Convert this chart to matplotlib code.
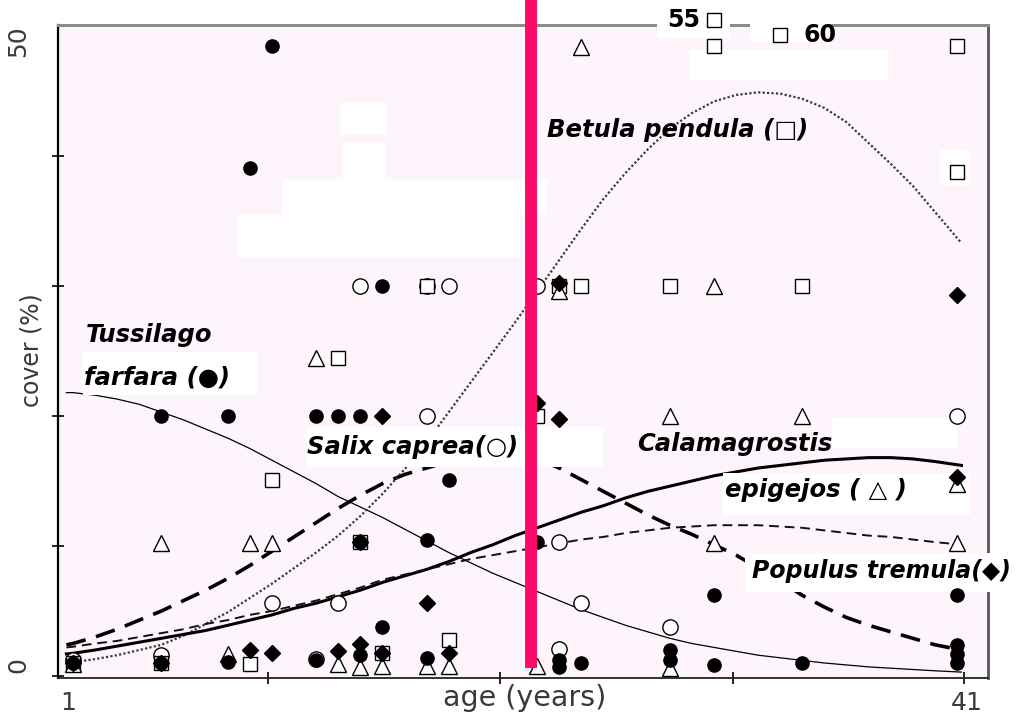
import matplotlib
matplotlib.use("Agg")
import matplotlib.pyplot as plt
from matplotlib.patches import Rectangle
from matplotlib.ticker import FixedLocator

W, H = 1025, 715

# ---------------- data ----------------
curve_age = [0.7, 1, 2, 3, 4, 5, 6, 7, 8, 9, 10, 11, 12, 13, 14, 15, 16, 17, 18, 19, 20,
             21, 22, 23, 24, 25, 26, 27, 28, 29, 30, 31, 32, 33, 34, 35, 36, 37, 38, 39, 40, 41.2]
tussilago_fit = [21.8, 21.8, 21.6, 21.3, 20.9, 20.3, 19.7, 19.0, 18.3, 17.5, 16.6, 15.7, 14.8, 13.8,
                 13.0, 12.2, 11.3, 10.4, 9.5, 8.7, 7.9, 7.2, 6.5, 5.8, 5.1, 4.5, 3.9, 3.4, 2.9, 2.5,
                 2.2, 1.9, 1.6, 1.4, 1.2, 1.0, 0.85, 0.7, 0.6, 0.5, 0.4, 0.3]
salix_fit = [2.4, 2.5, 3.0, 3.6, 4.3, 5.0, 5.8, 6.6, 7.5, 8.5, 9.6, 10.7, 11.8, 12.9, 13.9, 14.8,
             15.5, 16.0, 16.5, 16.8, 17.0, 17.0, 16.7, 16.0, 15.1, 14.2, 13.3, 12.4, 11.6, 10.9,
             10.1, 9.3, 8.3, 7.3, 6.2, 5.3, 4.5, 3.9, 3.4, 2.9, 2.4, 2.0]
betula_fit = [1.0, 1.05, 1.3, 1.6, 2.0, 2.4, 3.1, 4.0, 4.9, 6.0, 7.1, 8.3, 9.5, 10.8, 12.3, 14.0,
              15.9, 18.0, 20.3, 22.6, 24.9, 27.2, 29.6, 32.0, 34.4, 36.7, 38.7, 40.5, 42.1, 43.3,
              44.2, 44.7, 44.9, 44.8, 44.4, 43.7, 42.6, 41.0, 39.4, 37.7, 35.7, 33.3]
calamagrostis_fit = [1.7, 1.75, 2.0, 2.3, 2.6, 2.9, 3.2, 3.5, 3.9, 4.3, 4.7, 5.2, 5.6, 6.1, 6.6,
                     7.2, 7.7, 8.2, 8.8, 9.5, 10.1, 10.8, 11.4, 12.0, 12.6, 13.1, 13.7, 14.2, 14.6,
                     15.0, 15.4, 15.7, 16.0, 16.2, 16.4, 16.6, 16.7, 16.8, 16.8, 16.7, 16.5, 16.2]
populus_fit = [2.2, 2.25, 2.5, 2.7, 3.0, 3.3, 3.6, 4.0, 4.3, 4.7, 5.0, 5.4, 5.8, 6.3, 6.8, 7.4,
               7.8, 8.2, 8.6, 9.0, 9.3, 9.6, 9.9, 10.2, 10.5, 10.7, 11.0, 11.2, 11.4, 11.5, 11.6,
               11.6, 11.6, 11.5, 11.4, 11.2, 11.0, 10.8, 10.7, 10.5, 10.3, 10.1]

tussilago_age = [1, 5, 5, 8, 8, 9, 10, 12, 12, 13, 14, 14, 14, 15, 15, 17, 17, 18, 22, 23, 23, 24, 28, 28, 30, 30, 34, 41, 41, 41, 41]
tussilago_cov = [1.0, 20, 1.0, 20, 1.1, 39.1, 48.5, 20, 1.2, 20, 20, 10.3, 1.6, 30, 3.8, 10.5, 1.4, 15.1, 10.3, 1.2, 0.7, 1.0, 2.0, 1.2, 6.2, 0.85, 1.0, 6.2, 2.4, 1.7, 1.0]

salix_age = [1, 5, 10, 12, 13, 14, 17, 17, 18, 22, 23, 23, 24, 28, 41]
salix_cov = [1.2, 1.6, 5.6, 1.3, 5.6, 30, 20, 30, 30, 30, 10.3, 2.1, 5.6, 3.8, 20]

betula_age = [1, 5, 9, 10, 13, 14, 15, 17, 18, 22, 23, 24, 28, 30, 34, 41, 41]
betula_cov = [1.0, 1.0, 0.9, 15.1, 24.5, 10.3, 1.8, 30, 2.8, 20, 30, 30, 30, 48.5, 30, 48.5, 38.8]
betula_off_age = [30, 33]          # values beyond the axis, drawn at the top edge
betula_off_cov = [55, 60]

calamagrostis_age = [1, 5, 8, 9, 10, 12, 13, 14, 15, 17, 18, 22, 23, 24, 28, 28, 30, 30, 34, 41, 41]
calamagrostis_cov = [0.9, 10.2, 1.7, 10.2, 10.2, 24.5, 0.9, 0.7, 0.8, 0.8, 0.8, 0.8, 29.6, 48.4, 20, 0.6, 30, 10.2, 20, 14.8, 10.2]

populus_age = [1, 5, 9, 10, 13, 14, 14, 15, 15, 17, 18, 22, 23, 23, 41, 41]
populus_cov = [1.0, 1.0, 2.0, 1.8, 1.9, 2.5, 10.3, 20, 1.8, 5.6, 1.8, 21.0, 19.8, 30.2, 29.3, 15.3]

divider_age = 21.7
x_tick_marks = [9.82, 20.32, 30.86, 41.32]
y_tick_marks = [0, 10, 20, 30, 40]

# ---------------- figure ----------------
fig = plt.figure(figsize=(W / 100, H / 100), dpi=100)
fig.patch.set_facecolor("white")
ax = fig.add_axes([58 / W, 1 - 678 / H, 930 / W, 653 / H])
ax.set_facecolor("#fef5fc")
ax.set_xlim(0.32, 42.40)
ax.set_ylim(-0.154, 50.08)


def px_rect(x0, y0, x1, y1, z=1.5):
    r = Rectangle((x0 / W, 1 - y1 / H), (x1 - x0) / W, (y1 - y0) / H,
                  transform=fig.transFigure, facecolor="white", edgecolor="none",
                  zorder=z, clip_on=False)
    ax.add_patch(r)


# white erased patches
for rect in [(340, 103, 387, 135), (343, 143, 385, 180), (283, 180, 547, 215),
             (237, 215, 520, 257), (690, 50, 888, 80), (940, 150, 970, 185)]:
    px_rect(*rect, z=0.5)

# fitted curves
ax.plot(curve_age, tussilago_fit, color="black", lw=0.9, zorder=2)
ax.plot(curve_age, salix_fit, color="black", lw=2.6, dashes=(5.5, 3), zorder=2)
ax.plot(curve_age, betula_fit, color="#3a3a3a", lw=1.6, dashes=(1, 1), zorder=2)
ax.plot(curve_age, calamagrostis_fit, color="black", lw=2.2, zorder=2)
ax.plot(curve_age, populus_fit, color="#111111", lw=1.4, dashes=(5, 3), zorder=2)

# label white boxes (cover lines)
for rect in [(83, 352, 257, 395), (307, 427, 603, 467), (832, 417, 957, 448),
             (723, 473, 970, 515), (745, 553, 1025, 592),
             (657, 10, 730, 38), (750, 10, 827, 42)]:
    px_rect(*rect, z=2.5)

# points
open_kw = dict(ls="none", mfc="white", mec="black", mew=1.0, zorder=3, clip_on=False)
ax.plot(salix_age, salix_cov, marker="o", ms=11, **open_kw)
ax.plot(betula_age, betula_cov, marker="s", ms=9.5, **open_kw)
ax.plot(calamagrostis_age, calamagrostis_cov, marker="^", ms=12, **open_kw)
ax.plot(tussilago_age, tussilago_cov, marker="o", ms=9.5, ls="none", color="black", zorder=3.2)
ax.plot(populus_age, populus_cov, marker="D", ms=8, ls="none", color="black", zorder=3.3)

# off-scale Betula points drawn at the top edge with their values
off_draw = [50.5, 49.3]
ax.plot(betula_off_age, off_draw, marker="s", ms=9.5, **open_kw)
for a, v, yd, dx in zip(betula_off_age, betula_off_cov, off_draw, [-1.35, 1.8]):
    ax.text(a + dx, yd, str(v), ha="center", va="center", fontsize=17,
            fontweight="bold", zorder=4, clip_on=False)

# species labels
lab_kw = dict(fontsize=17.5, fontweight="bold", style="italic", zorder=4,
              transform=fig.transFigure, va="center", ha="left")


def ftext(x, y, s, **kw):
    d = dict(lab_kw)
    d.update(kw)
    ax.text(x / W, 1 - y / H, s, **d)


ftext(86, 335, "Tussilago")
ftext(84, 378, "farfara (●)")
ftext(307, 447, "Salix caprea(○)")
ftext(547, 130, "Betula pendula (□)")
ftext(637, 444, "Calamagrostis")
ftext(725, 490, "epigejos ( △ )")
ftext(752, 571, "Populus tremula(◆)", fontsize=17)

# divider line
ax.plot([divider_age, divider_age], [0.6, 52.0], color="#ff0a68", lw=8.6,
        solid_capstyle="butt", zorder=10, clip_on=False)

# spines
ax.spines["left"].set_linewidth(1.6)
ax.spines["left"].set_color("black")
ax.spines["bottom"].set_linewidth(1.3)
ax.spines["bottom"].set_color("#222222")
ax.spines["top"].set_linewidth(2.2)
ax.spines["top"].set_color("#8c8c8c")
ax.spines["right"].set_linewidth(2.0)
ax.spines["right"].set_color("#555555")
for s in ax.spines.values():
    s.set_zorder(1.8)

# ticks
lab_color = "#3d3833"
ax.set_xticks([0.77, 41.45], labels=["1", "41"])
ax.xaxis.set_minor_locator(FixedLocator(x_tick_marks))
ax.set_yticks([0.85, 48.8], labels=["0", "50"])
ax.yaxis.set_minor_locator(FixedLocator(y_tick_marks))
ax.tick_params(axis="x", which="major", length=0, pad=9, labelsize=18, labelcolor=lab_color)
ax.tick_params(axis="y", which="major", length=0, pad=20, labelsize=18, labelcolor=lab_color,
               labelrotation=90)
for lab in ax.get_yticklabels():
    lab.set_va("center")
ax.tick_params(which="minor", direction="inout", length=8, width=1.2, color="black")

ax.set_xlabel("age (years)", fontsize=20.5, color=lab_color)
ax.xaxis.set_label_coords(0.502, -0.031)
ax.xaxis.label.set_va("center")
ax.set_ylabel("cover (%)", fontsize=17, color=lab_color)
ax.yaxis.set_label_coords(-0.029, 0.502)
ax.yaxis.label.set_va("center")

fig.savefig("out.png", dpi=100, facecolor="white")
